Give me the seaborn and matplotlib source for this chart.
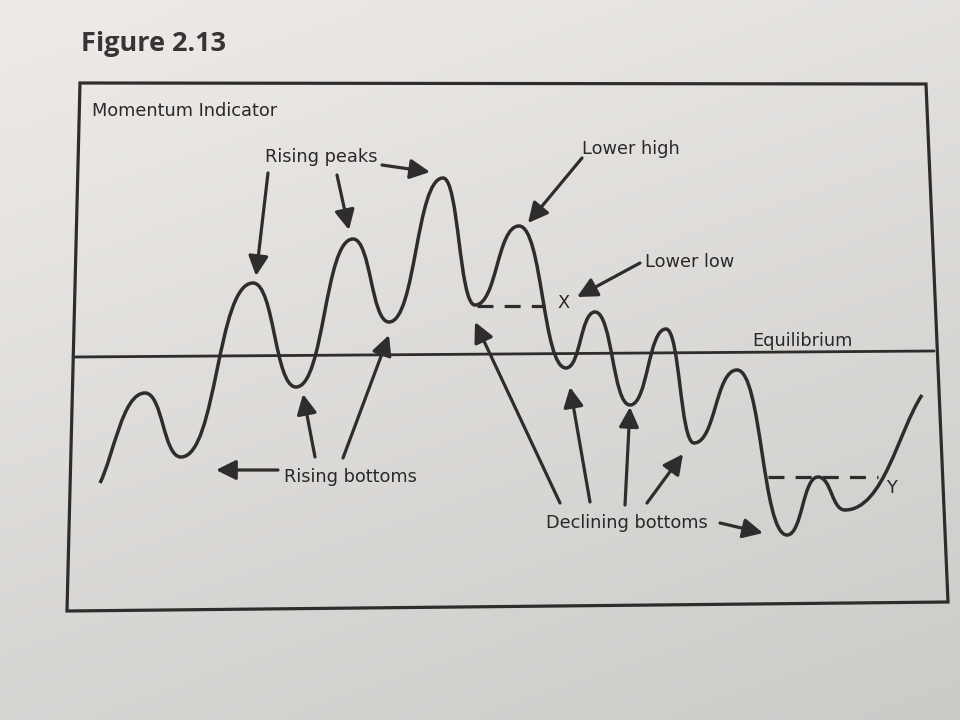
import numpy as np
import pandas as pd
import seaborn as sns
import matplotlib.pyplot as plt
from matplotlib.path import Path
from matplotlib.patches import PathPatch, Polygon

sns.set_theme(style="white")
plt.rcParams['font.family'] = ['DejaVu Sans']

# ---- data (x right, y down, in picture units) ----
wave_x = [100, 145, 181, 253, 296, 353, 389, 443, 475, 519, 566, 595, 630, 666, 694, 737, 787, 818, 845, 922]
wave_y = [483, 393, 457, 283, 387, 239, 322, 178, 305, 226, 368, 312, 405, 329, 443, 370, 535, 477, 510, 395]
equilibrium_x = [73, 934]
equilibrium_y = [357, 351]
lower_low_x = [477, 545]
lower_low_y = [306, 306]
level_y_x = [768, 878]
level_y_y = [477, 477]

INK = '#2e2c2c'
TXT = '#2a2828'

fig = plt.figure(figsize=(9.6, 7.2), dpi=100)
ax = fig.add_axes([0, 0, 1, 1])
ax.set_xlim(0, 960)
ax.set_ylim(720, 0)
ax.axis('off')

# page background (photo of a printed page): light, darker towards bottom-right
yy, xx = np.mgrid[0:72, 0:96]
shade = 0.55 * (yy / 71.0) + 0.25 * (xx / 95.0)
top = np.array([238, 235, 233]) / 255.0
bot = np.array([196, 195, 192]) / 255.0
img = top[None, None, :] * (1 - shade[..., None]) + bot[None, None, :] * shade[..., None]
ax.imshow(img, extent=[0, 960, 720, 0], aspect='auto', zorder=0, interpolation='bicubic')

# frame of the figure
box = Polygon([(80, 83), (926, 84), (948, 602), (67, 611)], closed=True,
              fill=False, edgecolor=INK, lw=2.3, zorder=2, joinstyle='miter')
ax.add_patch(box)

# equilibrium line and dashed reference levels
sns.lineplot(x=equilibrium_x, y=equilibrium_y, ax=ax, color=INK, lw=2.0, zorder=3)
sns.lineplot(x=lower_low_x, y=lower_low_y, ax=ax, color=INK, lw=2.3, zorder=3,
             linestyle=(0, (5, 3.5)))
sns.lineplot(x=level_y_x, y=level_y_y, ax=ax, color=INK, lw=2.3, zorder=3,
             linestyle=(0, (5, 3.5)))

# momentum wave: smooth curve through the turning points
verts = [(wave_x[0], wave_y[0])]
codes = [Path.MOVETO]
n = len(wave_x)
k = 0.5
for i in range(n - 1):
    x0, y0, x1, y1 = wave_x[i], wave_y[i], wave_x[i + 1], wave_y[i + 1]
    dx, dy = x1 - x0, y1 - y0
    c1 = (x0 + 0.3 * dx, y0 + 0.3 * dy) if i == 0 else (x0 + k * dx, y0)
    c2 = (x1 - 0.3 * dx, y1 - 0.3 * dy) if i == n - 2 else (x1 - k * dx, y1)
    verts += [c1, c2, (x1, y1)]
    codes += [Path.CURVE4] * 3
ax.add_patch(PathPatch(Path(verts, codes), fill=False, edgecolor=INK, lw=2.5,
                       zorder=4, capstyle='butt'))

# texts
ax.text(81, 44, 'Figure 2.13', fontsize=19.5, fontweight='bold', color='#363434',
        family=['Open Sans', 'DejaVu Sans'], ha='left', va='center')
lab = dict(fontsize=12.8, color=TXT, ha='left', va='center', zorder=5)
ax.text(92, 111, 'Momentum Indicator', **lab)
ax.text(265, 157, 'Rising peaks', **lab)
ax.text(582, 149, 'Lower high', **lab)
ax.text(645, 262, 'Lower low', **lab)
ax.text(284, 477, 'Rising bottoms', **lab)
ax.text(546, 523, 'Declining bottoms', **lab)
ax.text(752, 341, 'Equilibrium', **lab)
ax.text(557, 303, 'X', **lab)
ax.text(886, 488, 'Y', **lab)

# arrows (tail -> head)
arrows = [
    ((268, 173), (256, 276)),
    ((337, 175), (349, 230)),
    ((382, 165), (430, 172)),
    ((582, 158), (528, 223)),
    ((640, 263), (577, 297)),
    ((278, 470), (216, 470)),
    ((315, 457), (303, 394)),
    ((343, 458), (389, 335)),
    ((560, 503), (475, 322)),
    ((590, 502), (570, 387)),
    ((625, 505), (630, 407)),
    ((647, 503), (683, 454)),
    ((720, 523), (763, 533)),
]
for (tx, ty), (hx, hy) in arrows:
    ax.annotate('', xy=(hx, hy), xytext=(tx, ty), zorder=5,
                arrowprops=dict(arrowstyle='-|>,head_length=0.6,head_width=0.3',
                                color=INK, lw=2.3, shrinkA=0, shrinkB=0,
                                mutation_scale=20))

fig.savefig('out.png', dpi=100)
